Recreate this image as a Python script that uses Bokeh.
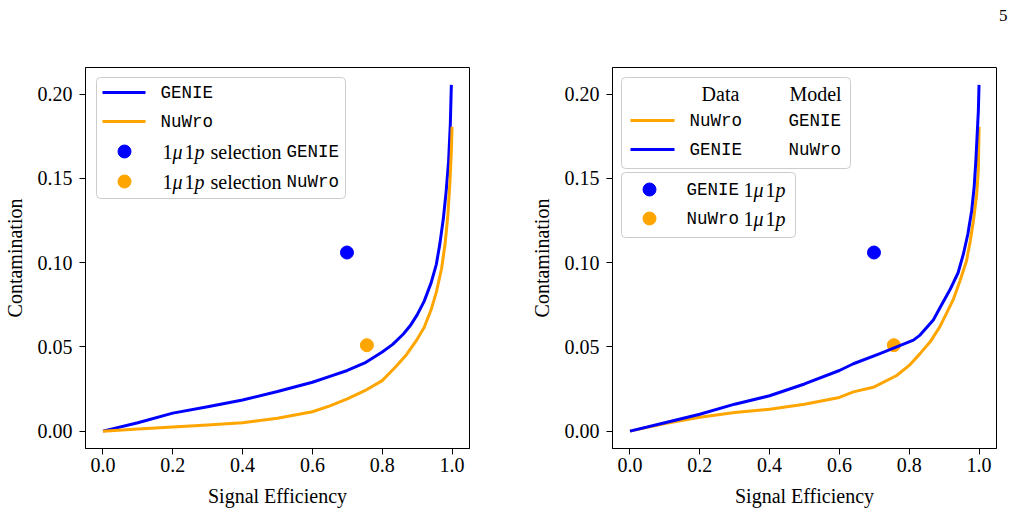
from bokeh.plotting import figure
from bokeh.layouts import row
from bokeh.models import Range1d, Label, BoxAnnotation, FixedTicker, NumeralTickFormatter, Title
from bokeh.embed import file_html
from bokeh.resources import INLINE

# ---------------------------------------------------------------------------
# Efficiency / contamination curves
# ---------------------------------------------------------------------------
# Left panel: each model evaluated on its own generator
eff_genie_l = [0.0, 0.1, 0.2, 0.3, 0.4, 0.5, 0.6, 0.65, 0.7, 0.75, 0.8, 0.83, 0.86,
               0.88, 0.9, 0.92, 0.94, 0.955, 0.965, 0.975, 0.983, 0.99, 0.995, 0.998]
cont_genie_l = [0.0, 0.005, 0.0107, 0.0145, 0.0185, 0.0235, 0.029, 0.0325, 0.036, 0.0405,
                0.047, 0.0515, 0.0575, 0.0625, 0.069, 0.077, 0.088, 0.099, 0.111, 0.126,
                0.142, 0.160, 0.182, 0.2055]

eff_nuwro_l = [0.0, 0.1, 0.2, 0.3, 0.4, 0.5, 0.6, 0.65, 0.7, 0.75, 0.8, 0.84, 0.87,
               0.9, 0.92, 0.94, 0.955, 0.97, 0.98, 0.988, 0.994, 0.998, 1.0]
cont_nuwro_l = [0.0, 0.0012, 0.0024, 0.0037, 0.005, 0.0077, 0.0115, 0.0150, 0.0192, 0.024,
                0.030, 0.0385, 0.0455, 0.0545, 0.0615, 0.072, 0.0825, 0.0965, 0.111, 0.128,
                0.148, 0.166, 0.1806]

# Right panel: data from one generator, model trained on the other
eff_genie_r = [0.0, 0.1, 0.2, 0.3, 0.4, 0.5, 0.6, 0.64, 0.716, 0.812, 0.831, 0.869,
               0.89, 0.917, 0.94, 0.955, 0.968, 0.979, 0.986, 0.991, 0.998, 1.0]
cont_genie_r = [0.0, 0.005, 0.010, 0.016, 0.021, 0.028, 0.036, 0.040, 0.046, 0.054,
                0.057, 0.066, 0.074, 0.084, 0.094, 0.105, 0.117, 0.131, 0.145, 0.161,
                0.190, 0.2055]

eff_nuwro_r = [0.0, 0.1, 0.2, 0.3, 0.4, 0.5, 0.6, 0.64, 0.697, 0.764, 0.8, 0.831, 0.86,
               0.888, 0.926, 0.945, 0.964, 0.975, 0.984, 0.993, 0.998, 1.0]
cont_nuwro_r = [0.0, 0.0045, 0.0083, 0.011, 0.013, 0.016, 0.020, 0.0233, 0.026, 0.033,
                0.039, 0.046, 0.053, 0.062, 0.078, 0.089, 0.101, 0.113, 0.125, 0.140,
                0.155, 0.1806]

# 1mu1p cut-based selection: [GENIE, NuWro]
sel_eff = [0.699, 0.756]
sel_cont = [0.106, 0.051]

x_ticks = [0.0, 0.2, 0.4, 0.6, 0.8, 1.0]
y_ticks = [0.00, 0.05, 0.10, 0.15, 0.20]

BLUE = "#0000ff"
ORANGE = "#ffa500"
SERIF = "Liberation Serif"
MONO = "Liberation Mono"
SERIF_SIZE = "20px"
MONO_SIZE = "17.5px"

X0, X1 = -0.05, 1.05
Y0, Y1 = -0.0103, 0.2158
FRAME_W, FRAME_H = 384, 381
TOP, BOTTOM = 67, 65


def make_panel(border_left, border_right):
    p = figure(frame_width=FRAME_W, frame_height=FRAME_H,
               min_border_left=border_left, min_border_right=border_right,
               min_border_top=TOP, min_border_bottom=BOTTOM,
               x_range=Range1d(X0, X1), y_range=Range1d(Y0, Y1),
               output_backend="svg", toolbar_location=None,
               background_fill_color="white", border_fill_color="white")
    p.xgrid.visible = False
    p.ygrid.visible = False
    p.outline_line_color = "black"
    p.outline_line_width = 1
    p.outline_line_alpha = 1.0
    for ax in (p.xaxis[0], p.yaxis[0]):
        ax.minor_tick_line_color = None
        ax.major_tick_in = 0
        ax.major_tick_out = 6
        ax.major_tick_line_color = "black"
        ax.axis_line_color = "black"
        ax.major_label_text_font = SERIF
        ax.major_label_text_font_size = SERIF_SIZE
        ax.major_label_text_color = "black"
        ax.axis_label_text_font = SERIF
        ax.axis_label_text_font_size = SERIF_SIZE
        ax.axis_label_text_font_style = "normal"
        ax.axis_label_text_color = "black"
    p.xaxis.ticker = FixedTicker(ticks=x_ticks)
    p.yaxis.ticker = FixedTicker(ticks=y_ticks)
    p.xaxis.formatter = NumeralTickFormatter(format="0.0")
    p.yaxis.formatter = NumeralTickFormatter(format="0.00")
    p.xaxis.axis_label = "Signal Efficiency"
    p.yaxis.axis_label = "Contamination"
    p.xaxis.major_label_standoff = 3
    p.yaxis.major_label_standoff = 7
    p.xaxis.axis_label_standoff = 10
    p.yaxis.axis_label_standoff = 9
    return p


def converter(frame_left):
    """Map page pixel positions inside a panel to its data coordinates."""
    def conv(px, py):
        x = X0 + (px - frame_left) / FRAME_W * (X1 - X0)
        y = Y1 - (py - TOP) / FRAME_H * (Y1 - Y0)
        return x, y
    return conv


def legend_box(p, conv, left, top, right, bottom):
    l, t = conv(left, top)
    r, b = conv(right, bottom)
    p.add_layout(BoxAnnotation(left=l, right=r, top=t, bottom=b,
                               fill_color="white", fill_alpha=0.8,
                               line_color="#cccccc", line_width=1, line_alpha=1.0,
                               border_radius=4))


def legend_text(p, conv, px, py, text, font=SERIF, size=SERIF_SIZE, style="normal", align="left"):
    x, y = conv(px, py)
    p.add_layout(Label(x=x, y=y, text=text, text_font=font, text_font_size=size,
                       text_font_style=style, text_align=align, text_baseline="middle",
                       text_color="black"))


def legend_line(p, conv, x_from, x_to, py, color):
    xa, y = conv(x_from, py)
    xb, _ = conv(x_to, py)
    p.line([xa, xb], [y, y], line_color=color, line_width=3, level="overlay")


def legend_dot(p, conv, px, py, color):
    x, y = conv(px, py)
    p.scatter([x], [y], size=13, fill_color=color, line_color=color, level="overlay")


def one_mu_one_p(p, conv, x_start, py):
    # "1 mu 1 p" written with italic symbols
    legend_text(p, conv, x_start, py, "1")
    legend_text(p, conv, x_start + 10, py, "μ", style="italic")
    legend_text(p, conv, x_start + 22, py, "1")
    legend_text(p, conv, x_start + 32, py, "p", style="italic")


def curve(p, x, y, color):
    p.line(x, y, line_color=color, line_width=3, line_join="round")


# ---------------------------------------------------------------------------
# Left panel
# ---------------------------------------------------------------------------
p1 = make_panel(83, 10)
conv1 = converter(83)
p1.scatter(sel_eff[:1], sel_cont[:1], size=13, fill_color=BLUE, line_color=BLUE)
p1.scatter(sel_eff[1:], sel_cont[1:], size=13, fill_color=ORANGE, line_color=ORANGE)
curve(p1, eff_genie_l, cont_genie_l, BLUE)
curve(p1, eff_nuwro_l, cont_nuwro_l, ORANGE)

legend_box(p1, conv1, 94, 77, 343, 198)
legend_line(p1, conv1, 100, 143, 92, BLUE)
legend_text(p1, conv1, 158, 92, "GENIE", font=MONO, size=MONO_SIZE)
legend_line(p1, conv1, 100, 143, 121, ORANGE)
legend_text(p1, conv1, 158, 121, "NuWro", font=MONO, size=MONO_SIZE)
for py, color, name in ((151, BLUE, "GENIE"), (181, ORANGE, "NuWro")):
    legend_dot(p1, conv1, 122, py, color)
    one_mu_one_p(p1, conv1, 160, py)
    legend_text(p1, conv1, 208, py, "selection")
    legend_text(p1, conv1, 284, py, name, font=MONO, size=MONO_SIZE)

# ---------------------------------------------------------------------------
# Right panel
# ---------------------------------------------------------------------------
p2 = make_panel(133, 21)
conv2 = converter(610)
p2.scatter(sel_eff[:1], sel_cont[:1], size=13, fill_color=BLUE, line_color=BLUE)
p2.scatter(sel_eff[1:], sel_cont[1:], size=13, fill_color=ORANGE, line_color=ORANGE)
curve(p2, eff_nuwro_r, cont_nuwro_r, ORANGE)
curve(p2, eff_genie_r, cont_genie_r, BLUE)

legend_box(p2, conv2, 619, 77, 848, 168)
legend_text(p2, conv2, 718, 93, "Data", align="center")
legend_text(p2, conv2, 813, 93, "Model", align="center")
legend_line(p2, conv2, 628, 672, 120, ORANGE)
legend_text(p2, conv2, 687, 120, "NuWro", font=MONO, size=MONO_SIZE)
legend_text(p2, conv2, 786, 120, "GENIE", font=MONO, size=MONO_SIZE)
legend_line(p2, conv2, 628, 672, 149, BLUE)
legend_text(p2, conv2, 687, 149, "GENIE", font=MONO, size=MONO_SIZE)
legend_text(p2, conv2, 786, 149, "NuWro", font=MONO, size=MONO_SIZE)

legend_box(p2, conv2, 619, 172, 793, 237)
for py, color, name in ((189, BLUE, "GENIE"), (218, ORANGE, "NuWro")):
    legend_dot(p2, conv2, 647, py, color)
    legend_text(p2, conv2, 684, py, name, font=MONO, size=MONO_SIZE)
    one_mu_one_p(p2, conv2, 741, py)

# page number in the top-right corner, lifted by a blank title row
p2.title.text = ""
gap_row = Title(text=" ", text_font=SERIF, text_font_size="27px")
page_no = Title(text="5", align="right", offset=-11, text_font=SERIF,
                text_font_size="17px", text_font_style="normal", text_color="black")
p2.add_layout(gap_row, "above")
p2.add_layout(page_no, "above")

layout = row(p1, p2)
open("out.html", "w").write(file_html(layout, INLINE))
